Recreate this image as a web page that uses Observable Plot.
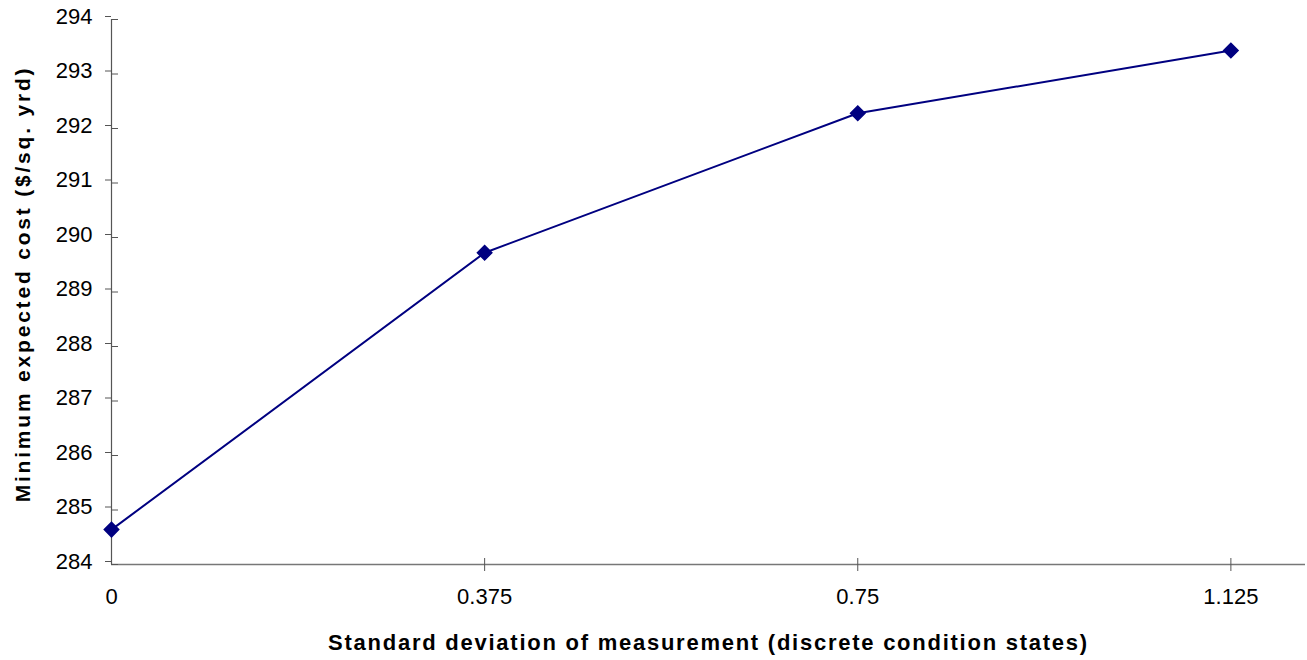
<!DOCTYPE html>
<html>
<head>
<meta charset="utf-8">
<script src="https://cdn.jsdelivr.net/npm/d3@7"></script>
<script src="https://cdn.jsdelivr.net/npm/@observablehq/plot@0.6"></script>
<style>
  html, body { margin: 0; padding: 0; background: #fff; }
  svg { font-family: "Liberation Sans", Arial, sans-serif; }
</style>
</head>
<body>
<div id="chart"></div>
<script>
const stdDev = [0, 0.375, 0.75, 1.125];
const minCost = [284.64, 289.72, 292.28, 293.43];
const xTicks = [0, 0.375, 0.75, 1.125];
const yTicks = [284, 285, 286, 287, 288, 289, 290, 291, 292, 293, 294];
const xLabel = "Standard deviation of measurement (discrete condition states)";
const yLabel = "Minimum expected cost ($/sq. yrd)";

const data = stdDev.map((x, i) => ({x, y: minCost[i]}));
const navy = "#000080";
const axisColor = "#555";

const plot = Plot.plot({
  width: 1307,
  height: 660,
  marginLeft: 111,
  marginRight: 2,
  marginTop: 19,
  marginBottom: 96,
  style: {fontFamily: "Liberation Sans, Arial, sans-serif", background: "#fff"},
  x: {type: "linear", domain: [0, 1.2]},
  y: {domain: [284, 294]},
  marks: [
    Plot.ruleY([284], {stroke: "#777", strokeWidth: 1.5}),
    Plot.ruleX([0], {stroke: axisColor, strokeWidth: 1.2}),
    Plot.axisY({ticks: yTicks, tickSize: 6, tickPadding: 13, fontSize: 22, dy: -3, label: null, stroke: axisColor, color: "#000", tickFormat: d => String(d)}),
    Plot.axisY({ticks: yTicks, tickSize: -7, text: null, label: null, stroke: axisColor}),
    Plot.axisX({ticks: xTicks.slice(1), tickSize: 7, text: null, label: null, stroke: axisColor}),
    Plot.axisX({ticks: xTicks.slice(1), tickSize: -6, text: null, label: null, stroke: axisColor}),
    Plot.axisX({ticks: xTicks, tickSize: 0, tickPadding: 24, fontSize: 22, label: null, color: "#000", tickFormat: d => String(d)}),
    Plot.line(data, {x: "x", y: "y", stroke: navy, strokeWidth: 2}),
    Plot.dot(data, {x: "x", y: "y", symbol: "diamond2", r: 6.5, fill: navy, stroke: navy}),
    Plot.text([xLabel], {frameAnchor: "bottom", dy: 85, fontSize: 22, fontWeight: "bold", fill: "#000", text: d => d}),
    Plot.text([yLabel], {frameAnchor: "left", textAnchor: "middle", rotate: -90, dx: -88, dy: -8, fontSize: 21, fontWeight: "bold", fill: "#000", text: d => d})
  ]
});
document.getElementById("chart").appendChild(plot);
const texts = plot.querySelectorAll('g[aria-label="text"] text');
texts[0].setAttribute("letter-spacing", "1.75");
texts[1].setAttribute("letter-spacing", "2.8");
</script>
</body>
</html>
